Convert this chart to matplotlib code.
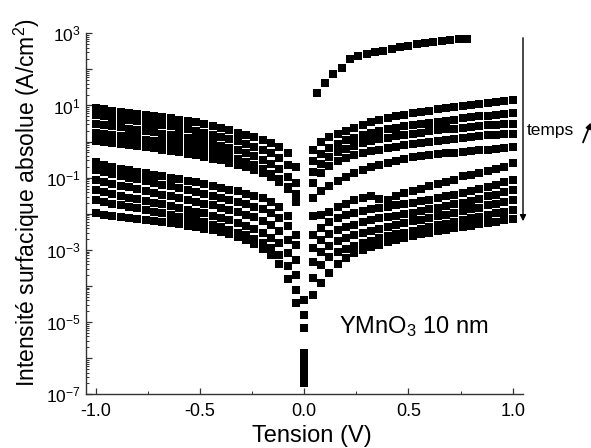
import numpy as np
import matplotlib.pyplot as plt
from matplotlib.ticker import FixedLocator, FuncFormatter, MultipleLocator, NullFormatter

plt.rcParams['font.family'] = ['Liberation Sans', 'DejaVu Sans']
plt.rcParams['mathtext.fontset'] = 'custom'
plt.rcParams['mathtext.rm'] = 'Liberation Sans'
plt.rcParams['mathtext.it'] = 'Liberation Sans:italic'
plt.rcParams['mathtext.bf'] = 'Liberation Sans:bold'

# voltage sweep (V), 0.04 V step
tension = np.round(np.linspace(-1.0, 1.0, 51), 2)

# log10 |J| (A/cm2), one list per sweep
u1 = [0.92, 0.89, 0.86, 0.83, 0.80, 0.77, 0.74, 0.71, 0.68, 0.64, 0.61, 0.57, 0.53, 0.48, 0.43,
      0.37, 0.31, 0.25, 0.19, 0.12, 0.04, -0.04, -0.15, -0.32, -0.70, -4.40,
      -0.24, -0.02, 0.12, 0.22, 0.30, 0.38, 0.46, 0.53, 0.59, 0.65, 0.70, 0.75, 0.79, 0.82, 0.86,
      0.89, 0.93, 0.96, 0.99, 1.02, 1.05, 1.08, 1.10, 1.13, 1.15]
u2 = [0.73, 0.70, 0.66, 0.63, 0.59, 0.56, 0.52, 0.49, 0.45, 0.42, 0.38, 0.34, 0.29, 0.24, 0.19,
      0.13, 0.07, 0.01, -0.06, -0.14, -0.22, -0.32, -0.45, -0.66, -1.15, -6.70,
      -0.55, -0.34, -0.18, -0.06, 0.04, 0.11, 0.18, 0.24, 0.29, 0.34, 0.38, 0.42, 0.46, 0.49, 0.52,
      0.55, 0.58, 0.61, 0.64, 0.67, 0.70, 0.72, 0.75, 0.77, 0.80]
u3 = [0.50, 0.47, 0.43, 0.40, 0.36, 0.33, 0.29, 0.26, 0.22, 0.19, 0.15, 0.11, 0.06, 0.01, -0.05,
      -0.11, -0.17, -0.24, -0.31, -0.40, -0.50, -0.61, -0.76, -0.98, -1.45, -5.17,
      -0.85, -0.62, -0.44, -0.30, -0.20, -0.12, -0.05, 0.01, 0.06, 0.11, 0.15, 0.19, 0.22, 0.25, 0.28,
      0.31, 0.34, 0.36, 0.38, 0.40, 0.43, 0.45, 0.47, 0.48, 0.50]
u4 = [0.25, 0.22, 0.18, 0.15, 0.12, 0.09, 0.05, 0.02, -0.01, -0.05, -0.08, -0.12, -0.16, -0.21, -0.27,
      -0.33, -0.40, -0.48, -0.56, -0.66, -0.77, -0.89, -1.04, -1.25, -1.62, -6.42,
      -1.15, -0.88, -0.67, -0.54, -0.45, -0.38, -0.32, -0.27, -0.22, -0.18, -0.14, -0.10, -0.07, -0.04, -0.01,
      0.02, 0.05, 0.08, 0.10, 0.12, 0.15, 0.17, 0.19, 0.20, 0.22]
u5 = [0.03, 0.00, -0.03, -0.07, -0.10, -0.13, -0.16, -0.19, -0.23, -0.26, -0.30, -0.34, -0.38, -0.42, -0.47,
      -0.52, -0.58, -0.64, -0.71, -0.79, -0.88, -0.99, -1.12, -1.30, -1.68, -4.80,
      -1.55, -1.38, -1.22, -1.09, -0.98, -0.88, -0.79, -0.71, -0.64, -0.58, -0.53, -0.48, -0.44, -0.41, -0.38,
      -0.35, -0.33, -0.31, -0.28, -0.26, -0.24, -0.22, -0.20, -0.18, -0.16]
l1 = [-0.57, -0.66, -0.71, -0.76, -0.80, -0.84, -0.88, -0.92, -0.96, -1.00, -1.04, -1.08, -1.13, -1.18, -1.23,
      -1.28, -1.33, -1.38, -1.44, -1.50, -1.57, -1.66, -1.80, -2.05, -2.60, -6.55,
      -2.05, -2.02, -1.95, -1.82, -1.72, -1.62, -1.55, -1.52, -1.58, -1.62, -1.50, -1.43, -1.37, -1.30, -1.22,
      -1.17, -1.12, -1.07, -0.95, -0.92, -0.88, -0.82, -0.76, -0.70, -0.60]
l2 = [-0.80, -0.85, -0.90, -0.95, -1.00, -1.04, -1.09, -1.14, -1.19, -1.24, -1.29, -1.34, -1.40, -1.45, -1.50,
      -1.55, -1.61, -1.67, -1.73, -1.80, -1.88, -1.98, -2.12, -2.35, -2.87, -5.86,
      -2.60, -2.40, -2.24, -2.12, -2.04, -1.98, -1.93, -1.88, -1.84, -1.80, -1.76, -1.73, -1.69, -1.65, -1.61,
      -1.57, -1.52, -1.47, -1.42, -1.37, -1.32, -1.26, -1.20, -1.13, -1.07]
l3 = [-1.07, -1.12, -1.17, -1.22, -1.27, -1.32, -1.37, -1.42, -1.47, -1.52, -1.57, -1.62, -1.67, -1.72, -1.77,
      -1.83, -1.89, -1.95, -2.02, -2.10, -2.20, -2.32, -2.48, -2.72, -3.29, -6.28,
      -2.96, -2.74, -2.57, -2.45, -2.37, -2.30, -2.24, -2.18, -2.13, -2.09, -2.05, -2.01, -1.97, -1.92, -1.88,
      -1.83, -1.78, -1.74, -1.69, -1.64, -1.58, -1.52, -1.47, -1.41, -1.35]
l4 = [-1.35, -1.40, -1.45, -1.50, -1.55, -1.59, -1.64, -1.69, -1.74, -1.79, -1.84, -1.89, -1.94, -1.99, -2.05,
      -2.11, -2.18, -2.25, -2.33, -2.42, -2.53, -2.66, -2.82, -3.08, -3.70, -6.14,
      -3.34, -3.06, -2.88, -2.76, -2.68, -2.60, -2.53, -2.47, -2.41, -2.36, -2.31, -2.26, -2.21, -2.16, -2.12,
      -2.07, -2.03, -1.98, -1.93, -1.88, -1.83, -1.77, -1.72, -1.68, -1.63]
l5 = [-1.63, -1.67, -1.72, -1.76, -1.81, -1.85, -1.90, -1.94, -1.99, -2.03, -2.08, -2.13, -2.18, -2.24, -2.30,
      -2.37, -2.44, -2.52, -2.60, -2.70, -2.82, -2.96, -3.14, -3.45, -4.12, -6.00,
      -3.79, -3.42, -3.19, -3.06, -2.98, -2.90, -2.82, -2.75, -2.68, -2.62, -2.57, -2.52, -2.47, -2.42, -2.37,
      -2.32, -2.27, -2.22, -2.17, -2.12, -2.08, -2.03, -1.99, -1.94, -1.90]
l6 = [-1.99, -2.02, -2.05, -2.08, -2.11, -2.14, -2.17, -2.20, -2.23, -2.26, -2.29, -2.33, -2.37, -2.41, -2.45,
      -2.50, -2.56, -2.63, -2.72, -2.83, -2.97, -3.15, -3.40, -3.80, -4.48, -6.61,
      -4.26, -3.93, -3.65, -3.40, -3.22, -3.10, -3.01, -2.93, -2.86, -2.79, -2.72, -2.66, -2.61, -2.56, -2.52,
      -2.48, -2.44, -2.40, -2.36, -2.33, -2.29, -2.25, -2.22, -2.18, -2.15]

# first sweep, positive branch only
first_v = [0.06, 0.10, 0.14, 0.18, 0.22, 0.26, 0.30, 0.34, 0.38, 0.42, 0.46, 0.50, 0.54, 0.58,
           0.62, 0.66, 0.70, 0.74, 0.78]
first_log = [1.34, 1.61, 1.86, 2.03, 2.28, 2.36, 2.42, 2.47, 2.50, 2.56, 2.61, 2.64, 2.70, 2.72,
             2.75, 2.78, 2.81, 2.84, 2.84]

sweeps = [u1, u2, u3, u4, u5, l1, l2, l3, l4, l5, l6]

fig = plt.figure(figsize=(5.91, 4.48), dpi=100)
ax = fig.add_axes([0.1455, 0.1199, 0.740, 0.8058])

for s in sweeps:
    ax.plot(tension, 10.0 ** np.array(s), 's', color='k', ms=5.3, mew=0, ls='none')
ax.plot(first_v, 10.0 ** np.array(first_log), 's', color='k', ms=5.3, mew=0, ls='none')

ax.set_yscale('log')
ax.set_xlim(-1.047, 1.051)
ax.set_ylim(1e-7, 1e3)

for side in ['top', 'right']:
    ax.spines[side].set_visible(False)
for side in ['left', 'bottom']:
    ax.spines[side].set_color('#333333')
    ax.spines[side].set_linewidth(1.0)

ax.xaxis.set_major_locator(MultipleLocator(0.5))
ax.xaxis.set_minor_locator(MultipleLocator(0.25))
ax.xaxis.set_major_formatter(FuncFormatter(lambda v, p: '%.1f' % v))

ax.yaxis.set_major_locator(FixedLocator([10.0 ** k for k in range(-7, 4)]))
minors = [m * 10.0 ** k for k in range(-7, 3) for m in range(2, 10)]
ax.yaxis.set_minor_locator(FixedLocator(minors))
ax.yaxis.set_minor_formatter(NullFormatter())


def ylab(y, pos):
    k = int(round(np.log10(y)))
    if k % 2 == 0:
        return ''
    return r'$10^{%d}$' % k


ax.yaxis.set_major_formatter(FuncFormatter(ylab))

ax.tick_params(which='both', direction='in', color='#333333', top=False, right=False)
ax.tick_params(which='major', length=4.5, width=0.9)
ax.tick_params(which='minor', length=2.2, width=0.7)
ax.tick_params(axis='x', labelsize=13, pad=6)
ax.tick_params(axis='y', labelsize=12.5, pad=4)

ax.set_xlabel('Tension (V)', fontsize=17)
ax.xaxis.set_label_coords(0.517, -0.085)
ax.xaxis.label.set_va('top')
ax.set_ylabel(r'Intensité surfacique absolue (A/cm$^2$)', fontsize=16.5)
ax.yaxis.set_label_coords(-0.10, 0.53)

ax.text(0.578, 0.169, r'YMnO$_3$ 10 nm', transform=ax.transAxes, fontsize=17, va='baseline')

# time arrow
ax.annotate('', xy=(523 / 591, 1 - 224 / 448), xytext=(523 / 591, 1 - 35 / 448),
            xycoords='figure fraction', textcoords='figure fraction',
            arrowprops=dict(arrowstyle='-|>', color='k', lw=1.0, mutation_scale=9))
fig.text(527 / 591, 1 - 131 / 448, 'temps', fontsize=12.5, va='center', ha='left')
ax.annotate('', xy=(592 / 591, 1 - 120 / 448), xytext=(582 / 591, 1 - 145 / 448),
            xycoords='figure fraction', textcoords='figure fraction',
            arrowprops=dict(arrowstyle='-|>', color='k', lw=1.3, mutation_scale=8))

fig.savefig('out.png', dpi=100)
